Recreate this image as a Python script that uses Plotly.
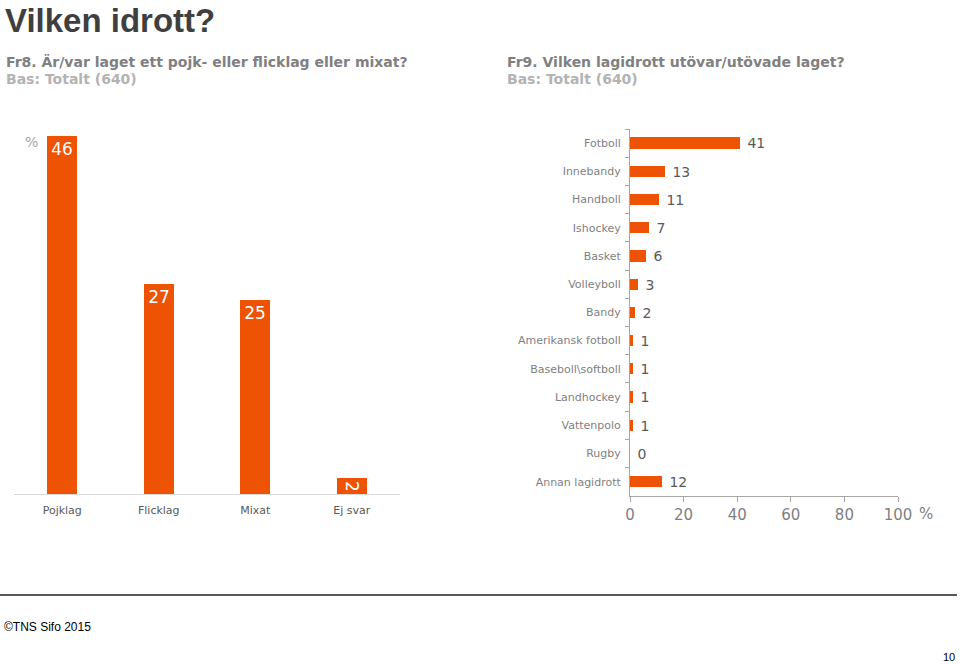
import plotly.graph_objects as go

# Left chart data
team_cats = ["Pojklag", "Flicklag", "Mixat", "Ej svar"]
team_vals = [46, 27, 25, 2]

# Right chart data
sport_cats = ["Fotboll", "Innebandy", "Handboll", "Ishockey", "Basket", "Volleyboll",
              "Bandy", "Amerikansk fotboll", "Baseboll\\softboll", "Landhockey",
              "Vattenpolo", "Rugby", "Annan lagidrott"]
sport_vals = [41, 13, 11, 7, 6, 3, 2, 1, 1, 1, 1, 0, 12]
x_ticks = [0, 20, 40, 60, 80, 100]

ORANGE = "#EE5203"
W, H = 960, 664

def px(x):
    return x / W

def py(y):
    return 1 - y / H

fig = go.Figure()

fig.add_trace(go.Bar(
    x=team_cats, y=team_vals, xaxis="x", yaxis="y",
    marker=dict(color=ORANGE, line=dict(width=0)),
    width=0.31,
    text=[str(v) for v in team_vals], textposition="inside",
    insidetextanchor="end", constraintext="none",
    textfont=dict(family="DejaVu Sans", size=17, color="white"),
    cliponaxis=True, hoverinfo="skip", showlegend=False,
))

fig.add_trace(go.Bar(
    x=sport_vals, y=sport_cats, orientation="h", xaxis="x2", yaxis="y2",
    marker=dict(color=ORANGE, line=dict(width=0)),
    width=0.4,
    text=["\u00a0" + str(v) for v in sport_vals], textposition="outside", constraintext="none",
    textfont=dict(family="DejaVu Sans", size=14, color="#595959"),
    cliponaxis=False, hoverinfo="skip", showlegend=False,
))

fig.update_layout(
    width=W, height=H, autosize=False, showlegend=False,
    margin=dict(l=0, r=0, t=0, b=0, pad=0, autoexpand=False),
    paper_bgcolor="white", plot_bgcolor="white",
    bargap=0,
    xaxis=dict(domain=[px(14), px(400)], type="category", automargin=False,
               showline=True, linecolor="#d9d9d9", linewidth=1,
               ticks="", showgrid=False, zeroline=False, ticklabelstandoff=6,
               tickfont=dict(family="DejaVu Sans", size=11, color="#595959")),
    yaxis=dict(domain=[py(494), py(105)], range=[0, 50], visible=False, automargin=False,
               showgrid=False, zeroline=False),
    xaxis2=dict(domain=[px(630), px(898)], range=[0, 100], anchor="y2", automargin=False,
                tickvals=x_ticks, ticktext=[str(t) for t in x_ticks],
                showline=True, linecolor="#a6a6a6", linewidth=1,
                ticks="outside", ticklen=5, tickcolor="#a6a6a6",
                showgrid=False, zeroline=False,
                tickfont=dict(family="DejaVu Sans", size=15, color="#7f7f7f")),
    yaxis2=dict(domain=[py(495.8), py(129)], anchor="x2", type="category", automargin=False,
                autorange="reversed",
                showline=True, linecolor="#a6a6a6", linewidth=1,
                ticks="outside", ticklen=4, tickcolor="#a6a6a6", ticklabelstandoff=6,
                tickson="boundaries", showgrid=False, zeroline=False,
                tickfont=dict(family="DejaVu Sans", size=11, color="#7f7f7f")),
)

annotations = [
    dict(text="<b>Vilken idrott?</b>", x=px(3), y=1.0, xanchor="left", yanchor="top",
         font=dict(family="Liberation Sans", size=33, color="#3f3f3f")),
    dict(text="<b>Fr8. Är/var laget ett pojk- eller flicklag eller mixat?</b>",
         x=px(4), y=py(62), xanchor="left", yanchor="middle",
         font=dict(family="DejaVu Sans", size=14, color="#808080")),
    dict(text="<b>Bas: Totalt (640)</b>", x=px(4), y=py(79), xanchor="left", yanchor="middle",
         font=dict(family="DejaVu Sans", size=14, color="#b3b3b3")),
    dict(text="<b>Fr9. Vilken lagidrott utövar/utövade laget?</b>",
         x=px(505), y=py(62), xanchor="left", yanchor="middle",
         font=dict(family="DejaVu Sans", size=14, color="#808080")),
    dict(text="<b>Bas: Totalt (640)</b>", x=px(505), y=py(79), xanchor="left", yanchor="middle",
         font=dict(family="DejaVu Sans", size=14, color="#b3b3b3")),
    dict(text="%", x=px(31), y=py(142), xanchor="center", yanchor="middle",
         font=dict(family="DejaVu Sans", size=14, color="#a6a6a6")),
    dict(text="%", x=px(917), y=py(514), xanchor="left", yanchor="middle",
         font=dict(family="DejaVu Sans", size=15, color="#7f7f7f")),
    dict(text="©TNS Sifo 2015", x=px(2), y=py(627), xanchor="left", yanchor="middle",
         font=dict(family="Liberation Sans", size=12, color="#000000")),
    dict(text="10", x=px(957), y=py(657), xanchor="right", yanchor="middle",
         font=dict(family="Liberation Sans", size=11, color="#000000")),
]
for a in annotations:
    a.update(xref="paper", yref="paper", showarrow=False)
fig.update_layout(annotations=annotations)

fig.update_layout(shapes=[
    dict(type="line", xref="paper", yref="paper", x0=0, x1=px(957), y0=py(595), y1=py(595),
         line=dict(color="#595959", width=2)),
])

fig.write_html(
    "out.html",
    config={"responsive": False, "displayModeBar": False},
    post_script="document.body.style.margin='0';document.body.style.overflow='hidden';",
)
